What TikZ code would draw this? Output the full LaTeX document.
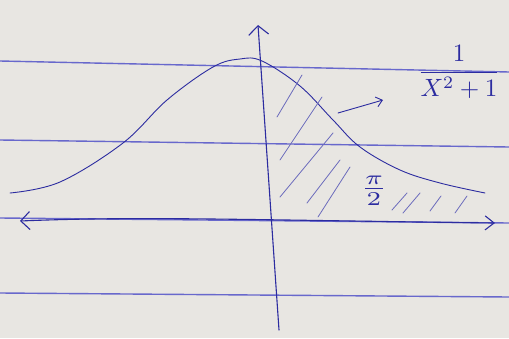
\documentclass[tikz,border=0pt]{standalone}
\usepackage{amsmath}
\usepackage{tikz}
\usetikzlibrary{arrows.meta}

\definecolor{paper}{HTML}{E8E6E2}
\definecolor{rule}{HTML}{6868CC}
\definecolor{ink}{HTML}{2C2CA0}

\tikzset{
    ruled/.style={rule, line width=1.4pt},
    pen/.style={ink, line width=1.1pt, line cap=round},
    hatch/.style={ink!70, line width=0.8pt, line cap=round},
    barb/.style={-{Straight Barb[length=9pt,width=20pt]}}
}

\begin{document}
\begin{tikzpicture}[x=1pt,y=-1pt]

% Paper
\fill[paper] (0,0) rectangle (509,338);
\useasboundingbox (0,0) rectangle (509,338);

% Ruled lines of the page
\draw[ruled] (0,61) -- (509,72);
\draw[ruled] (0,140) -- (509,147);
\draw[ruled] (0,218) -- (509,223);
\draw[ruled] (0,293) -- (509,297);

% Axes
\coordinate (ybot) at (279,330);
\coordinate (ytop) at (258,25);
\coordinate (xleft) at (20,221);
\coordinate (xright) at (495,223);
\draw[pen,barb] (ybot) -- (ytop);
\draw[pen,{Straight Barb[length=9pt,width=18pt]}-{Straight Barb[length=9pt,width=14pt]}]
    (xleft) .. controls (140,216) and (250,220) .. (xright);

% Curve 1/(x^2+1)
\draw[pen,line width=0.9pt] plot[smooth,tension=0.6] coordinates {
    (10,193) (60,182) (123,143) (167,100) (213,67) (240,59) (262,61)
    (300,86) (333,120) (360,147) (400,170) (440,183) (485,193)};

% Hatching under the curve, right of the axis
\foreach \ax/\ay/\bx/\by in {
    277/117/302/75, 280/160/322/97, 280/197/333/133,
    307/203/340/160, 318/217/350/167,
    392/210/407/193, 403/213/420/193, 430/211/441/196, 455/213/467/196}
    \draw[hatch] (\ax,\ay) -- (\bx,\by);

% Area label
\node[ink, scale=2.8, xscale=1.3] (area) at (374,191) {$\frac{\pi}{2}$};

% Function label with pointer
\node[ink, scale=2.5] (func) at (459,72) {$\dfrac{1}{X^2+1}$};
\coordinate (ptail) at (338,113);
\coordinate (phead) at (383,100);
\draw[pen,line width=0.9pt,-{Straight Barb[length=6pt,width=10pt]}] (ptail) -- (phead);

\end{tikzpicture}
\end{document}
